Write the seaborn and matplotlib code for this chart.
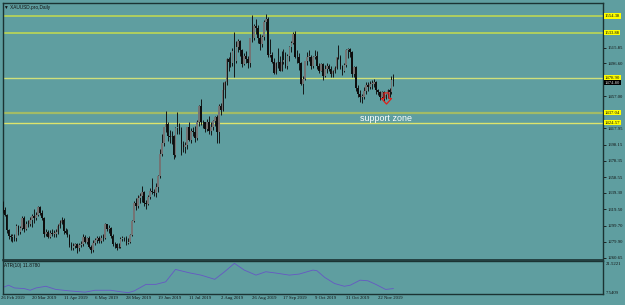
import numpy as np
import pandas as pd
import matplotlib
matplotlib.use("Agg")
import matplotlib.pyplot as plt
import matplotlib.transforms as mtransforms
from matplotlib.path import Path
import seaborn as sns

# ---------------- data ----------------
opens = [1328,1328,1319,1313,1294,1287,1286,1286,1285,1299,
         1292,1297,1309,1295,1302,1301,1306,1311,1309,1312,
         1322,1315,1309,1290,1292,1286,1291,1290,1290,1292,
         1299,1303,1307,1293,1291,1288,1276,1273,1275,1277,
         1272,1276,1277,1286,1280,1284,1274,1270,1279,1282,
         1285,1281,1284,1285,1301,1296,1297,1287,1277,1277,
         1273,1274,1283,1284,1285,1279,1280,1288,1305,1327,
         1323,1333,1336,1341,1327,1326,1334,1342,1341,1339,
         1346,1360,1387,1400,1419,1423,1408,1407,1409,1385,
         1418,1419,1414,1399,1395,1397,1419,1404,1415,1413,
         1406,1426,1445,1425,1425,1417,1426,1414,1419,1427,
         1431,1413,1445,1440,1464,1474,1502,1499,1497,1512,
         1500,1517,1524,1513,1496,1506,1502,1497,1527,1528,
         1542,1540,1527,1520,1529,1547,1551,1507,1507,1499,
         1485,1497,1498,1488,1498,1501,1494,1506,1517,1522,
         1532,1504,1505,1497,1472,1478,1500,1505,1505,1493,
         1505,1506,1494,1488,1496,1482,1490,1493,1490,1484,
         1487,1491,1504,1505,1493,1488,1495,1513,1514,1510,
         1484,1492,1467,1459,1456,1456,1463,1471,1468,1472,
         1472,1474,1464,1462,1456,1462,1455,1458,1464,1462,
         1477]
highs = [1331,1329,1322,1314,1296,1290,1289,1290,1301,1300,
         1299,1311,1311,1305,1307,1310,1314,1320,1316,1324,
         1323,1318,1310,1296,1294,1294,1295,1294,1296,1302,
         1307,1310,1309,1297,1295,1289,1280,1279,1279,1278,
         1278,1281,1289,1288,1286,1287,1276,1282,1284,1287,
         1287,1288,1290,1303,1302,1300,1298,1289,1280,1278,
         1278,1286,1287,1286,1287,1284,1290,1306,1329,1333,
         1337,1339,1348,1342,1331,1337,1345,1358,1344,1352,
         1361,1393,1411,1420,1439,1425,1416,1414,1410,1420,
         1438,1424,1420,1402,1401,1420,1426,1418,1419,1421,
         1428,1446,1453,1428,1426,1429,1433,1425,1428,1433,
         1434,1447,1449,1474,1475,1503,1505,1510,1515,1535,
         1524,1526,1525,1514,1509,1512,1506,1528,1555,1545,
         1551,1543,1532,1531,1550,1557,1553,1526,1511,1503,
         1499,1516,1506,1512,1514,1510,1508,1518,1524,1535,
         1536,1513,1509,1499,1482,1500,1511,1513,1507,1506,
         1513,1512,1497,1497,1497,1495,1497,1496,1493,1489,
         1494,1505,1519,1507,1495,1497,1514,1516,1516,1512,
         1494,1494,1470,1464,1460,1468,1474,1474,1475,1476,
         1478,1475,1466,1463,1463,1463,1460,1466,1467,1481,
         1484]
lows = [1319,1315,1311,1291,1283,1281,1280,1281,1281,1288,
        1290,1294,1292,1294,1298,1299,1298,1303,1306,1311,
        1312,1307,1286,1287,1284,1284,1287,1286,1286,1290,
        1297,1301,1289,1289,1286,1274,1270,1270,1272,1266,
        1269,1274,1275,1278,1277,1272,1266,1268,1276,1279,
        1278,1279,1281,1283,1293,1291,1285,1275,1273,1270,
        1272,1272,1281,1281,1276,1277,1278,1287,1304,1319,
        1321,1327,1328,1323,1320,1325,1332,1338,1336,1334,
        1341,1358,1384,1396,1413,1402,1400,1399,1381,1383,
        1411,1411,1386,1389,1388,1393,1402,1400,1408,1401,
        1404,1421,1422,1418,1413,1414,1411,1410,1416,1421,
        1400,1400,1434,1439,1455,1471,1488,1492,1493,1480,
        1497,1510,1506,1492,1495,1497,1491,1492,1523,1525,
        1533,1522,1513,1517,1525,1537,1504,1505,1497,1484,
        1484,1491,1487,1487,1496,1491,1490,1500,1510,1520,
        1503,1497,1489,1471,1459,1476,1495,1500,1490,1491,
        1502,1490,1485,1487,1476,1480,1485,1487,1480,1480,
        1485,1490,1502,1490,1483,1486,1492,1503,1505,1480,
        1480,1463,1456,1450,1449,1453,1460,1463,1466,1466,
        1468,1459,1458,1452,1453,1451,1454,1455,1456,1459,
        1469]
closes = [1328,1319,1313,1294,1287,1286,1286,1285,1299,1292,
          1297,1309,1295,1302,1301,1306,1311,1309,1312,1322,
          1315,1309,1290,1292,1286,1291,1290,1290,1292,1299,
          1303,1307,1293,1291,1288,1276,1273,1275,1277,1272,
          1276,1277,1286,1280,1284,1274,1270,1279,1282,1285,
          1281,1284,1285,1301,1296,1297,1287,1277,1277,1273,
          1274,1283,1284,1285,1279,1280,1288,1305,1327,1323,
          1333,1336,1341,1327,1326,1334,1342,1341,1339,1346,
          1360,1387,1400,1419,1423,1408,1407,1409,1385,1418,
          1419,1414,1399,1395,1397,1419,1404,1415,1413,1406,
          1426,1445,1425,1425,1417,1426,1414,1419,1427,1431,
          1413,1445,1440,1464,1474,1502,1499,1497,1512,1500,
          1517,1524,1513,1496,1506,1502,1497,1527,1528,1542,
          1540,1527,1520,1529,1547,1551,1507,1507,1499,1485,
          1497,1498,1488,1498,1501,1494,1506,1517,1522,1532,
          1504,1505,1497,1472,1478,1500,1505,1505,1493,1505,
          1506,1494,1488,1496,1482,1490,1493,1490,1484,1487,
          1491,1504,1505,1493,1488,1495,1513,1514,1510,1484,
          1492,1467,1459,1456,1456,1463,1471,1468,1472,1472,
          1474,1464,1462,1456,1462,1455,1458,1464,1462,1477,
          1474.80]

atr_bars = [0,4,7,12,15,18,23,28,35,43,48,56,61,65,68,74,79,84,89,96,102,
            109,114,119,124,130,135,140,147,152,159,161,165,170,175,178,183,
            187,191,196,200]
atr_vals = [9.6,11.1,9.8,9.5,8.7,9.8,10.6,9.1,8.4,7.8,8.7,8.7,8.0,7.54,8.4,
            11.5,11.5,12.7,18.6,17.0,15.9,13.9,17.5,21.5,18.3,15.9,17.5,16.9,
            15.9,16.4,18.3,18.0,14.8,11.9,10.6,11.1,13.5,13.2,11.5,9.1,9.5]

price_ticks = [1515.85, 1496.60, 1457.00, 1417.95, 1398.15, 1378.35, 1358.55,
               1339.30, 1319.50, 1299.70, 1279.90, 1260.65]
level_prices = [1554.38, 1533.88, 1478.90, 1437.04, 1424.57]
level_colors = ["#b6d35a", "#b6d35a", "#cfe07a", "#a2bb66", "#dde46c"]
level_widths = [1.3, 1.3, 1.0, 1.6, 1.0]

date_positions = [0, 16, 32, 48, 64, 80, 96, 112, 128, 144, 160, 176, 192]
date_labels = ["26 Feb 2019", "20 Mar 2019", "11 Apr 2019", "6 May 2019",
               "28 May 2019", "19 Jun 2019", "11 Jul 2019", "2 Aug 2019",
               "26 Aug 2019", "17 Sep 2019", "9 Oct 2019", "31 Oct 2019",
               "22 Nov 2019"]
atr_ticks = [21.5221, 7.5409]
signal_bar = 196
signal_price = 1455
zone_text_bar = 196
zone_text_price = 1430

# ---------------- style ----------------
BG = "#5f9ea0"
FR = "#1b3333"
sns.set_style("white", {"axes.facecolor": BG, "figure.facecolor": BG,
                        "axes.edgecolor": FR})
plt.rcParams["font.family"] = ["Liberation Serif", "DejaVu Sans"]
SMALL = 3.4

fig = plt.figure(figsize=(6.25, 3.05), dpi=100, facecolor=BG)
W, H = 625.0, 305.0
ax = fig.add_axes([3 / W, 1 - 259.5 / H, 600 / W, 256.5 / H])
ax2 = fig.add_axes([3 / W, 1 - 294 / H, 600 / W, 33.5 / H])

df = pd.DataFrame({"i": np.arange(len(closes)), "o": opens, "h": highs,
                   "l": lows, "c": closes})
bull = df["c"] >= df["o"]
body_lo = df[["o", "c"]].min(axis=1)
body_h = (df["c"] - df["o"]).abs().clip(lower=0.6)

ax.vlines(df["i"], df["l"], df["h"], color="#0e0e0e", lw=0.65, zorder=3)
ax.bar(df["i"], body_h, bottom=body_lo, width=0.85,
       color=np.where(bull, "#747474", "#0e0e0e"), linewidth=0, zorder=4)

for p, col, lw in zip(level_prices, level_colors, level_widths):
    ax.axhline(p, color=col, lw=lw, zorder=2)

ax.set_xlim(1.17, 306.7)
ax.set_ylim(1258.46, 1570.1)

# signal arrow (hollow red down arrow)
arrow = Path([(-0.45, 1.0), (0.45, 1.0), (0.45, 0.0), (0.9, 0.0), (0.0, -1.0),
              (-0.9, 0.0), (-0.45, 0.0), (-0.45, 1.0)],
             [Path.MOVETO] + [Path.LINETO] * 6 + [Path.CLOSEPOLY])
ax.plot([signal_bar], [signal_price], marker=arrow, markersize=8,
        markerfacecolor="none", markeredgecolor="#e0201a", markeredgewidth=0.9,
        zorder=6)

ax.text(zone_text_bar, zone_text_price, "support zone", color="white",
        fontsize=6.4, family="Liberation Sans", ha="center", va="center", zorder=7)

# right price axis
ax.yaxis.tick_right()
ax.set_yticks(price_ticks)
ax.set_yticklabels([f"{v:.2f}" for v in price_ticks])
ax.tick_params(axis="y", right=True, length=2, width=0.6, pad=1.2,
               labelsize=SMALL, colors="#111111")
ax.set_xticks([])
for s in ["top", "left", "right"]:
    ax.spines[s].set_color(FR)
    ax.spines[s].set_linewidth(1.0)
ax.spines["bottom"].set_color(FR)
ax.spines["bottom"].set_linewidth(1.2)

blend = mtransforms.blended_transform_factory(ax.transAxes, ax.transData)
for p in level_prices:
    ax.text(1.003, p, f"{p:.2f}", transform=blend, fontsize=SMALL,
            color="#111111", ha="left", va="center", clip_on=False, zorder=8,
            bbox=dict(boxstyle="square,pad=0.12", fc="#ffff00", ec="none"))
ax.text(1.003, closes[-1] - 1.5, f"{closes[-1]:.2f}", transform=blend,
        fontsize=SMALL, color="#d8d8d8", ha="left", va="center", clip_on=False,
        zorder=9, bbox=dict(boxstyle="square,pad=0.12", fc="#000000", ec="none"))

ax.text(0.002, 0.993, "\u25BC XAUUSD.pro,Daily", transform=ax.transAxes,
        fontsize=SMALL, family="Liberation Sans", color="#111111",
        ha="left", va="top")

# ATR panel
atr_df = pd.DataFrame({"bar": atr_bars, "atr": atr_vals})
sns.lineplot(data=atr_df, x="bar", y="atr", ax=ax2, color="#6657c4", lw=0.6)
ax2.set_xlim(1.17, 306.7)
ax2.set_ylim(6.92, 22.85)
ax2.set_xlabel("")
ax2.set_ylabel("")
ax2.yaxis.tick_right()
ax2.set_yticks(atr_ticks)
ax2.set_yticklabels([f"{v:.4f}" for v in atr_ticks])
ax2.tick_params(axis="y", right=True, length=0, pad=2, labelsize=SMALL,
                colors="#111111")
ax2.set_xticks([])
for s in ["top", "left", "right", "bottom"]:
    ax2.spines[s].set_color(FR)
    ax2.spines[s].set_linewidth(1.0)
ax2.text(0.002, 0.93, "ATR(10) 11.8780", transform=ax2.transAxes,
         fontsize=SMALL, family="Liberation Sans", color="#111111",
         ha="left", va="top")

dblend = mtransforms.blended_transform_factory(ax2.transData, ax2.transAxes)
for pos, lab in zip(date_positions, date_labels):
    ax2.text(pos, -0.06, lab, transform=dblend, fontsize=SMALL,
             color="#111111", ha="left", va="top", clip_on=False)

fig.savefig("out.png", dpi=100, facecolor=BG)
